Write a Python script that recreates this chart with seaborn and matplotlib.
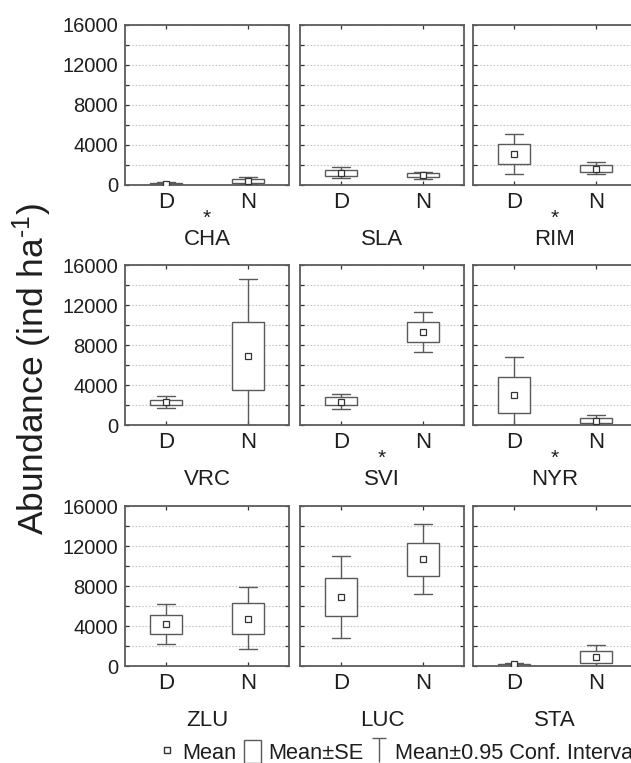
import numpy as np
import pandas as pd
import matplotlib
matplotlib.use("Agg")
import matplotlib.pyplot as plt
from matplotlib.lines import Line2D
from matplotlib.patches import Patch
from matplotlib.path import Path
import seaborn as sns

# ---------------- data ----------------
sites = ["CHA", "SLA", "RIM", "VRC", "SVI", "NYR", "ZLU", "LUC", "STA"]
groups = ["D", "N"]
significant = ["CHA", "RIM", "SVI", "NYR"]

mean_D    = [150, 1200, 3150, 2260, 2320, 3020, 4170, 6900, 160]
se_low_D  = [80, 900, 2100, 1990, 1990, 1230, 3170, 4970, 40]
se_high_D = [220, 1500, 4100, 2520, 2790, 4810, 5130, 8770, 230]
ci_low_D  = [20, 670, 1140, 1690, 1590, 0, 2170, 2770, 0]
ci_high_D = [300, 1800, 5060, 2860, 3150, 6770, 6200, 10970, 330]

mean_N    = [430, 970, 1610, 6900, 9300, 430, 4730, 10700, 900]
se_low_N  = [250, 770, 1340, 3550, 8300, 200, 3230, 9030, 330]
se_high_N = [600, 1200, 2010, 10260, 10260, 660, 6270, 12330, 1470]
ci_low_N  = [150, 630, 1070, 0, 7300, 0, 1670, 7230, 0]
ci_high_N = [760, 1300, 2280, 14570, 11290, 1000, 7870, 14170, 2100]

yticks = [0, 2000, 4000, 6000, 8000, 10000, 12000, 14000, 16000]
ytick_labels = ["0", "", "4000", "", "8000", "", "12000", "", "16000"]
y_label = "Abundance (ind ha$^{\u2010 1}$)"
legend_labels = ["Mean", "Mean\u00b1SE", "Mean\u00b10.95 Conf. Interval"]

# ---------------- table ----------------
rows = []
for i, s in enumerate(sites):
    rows.append(dict(site=s, group="D", mean=mean_D[i], se_low=se_low_D[i],
                     se_high=se_high_D[i], ci_low=ci_low_D[i], ci_high=ci_high_D[i]))
    rows.append(dict(site=s, group="N", mean=mean_N[i], se_low=se_low_N[i],
                     se_high=se_high_N[i], ci_low=ci_low_N[i], ci_high=ci_high_N[i]))
df = pd.DataFrame(rows)

# ---------------- style ----------------
sns.set_style("white")
plt.rcParams["font.family"] = ["Liberation Sans", "DejaVu Sans"]
plt.rcParams["mathtext.fontset"] = "custom"
plt.rcParams["mathtext.rm"] = "Liberation Sans"
plt.rcParams["mathtext.it"] = "Liberation Sans:italic"
plt.rcParams["mathtext.default"] = "regular"

W, H = 631, 763
fig = plt.figure(figsize=(W / 100, H / 100), dpi=100)
fig.patch.set_facecolor("white")

line_c = "#5a5a5a"
spine_c = "#5c5c5c"
text_c = "#1e1e1e"

lefts = [125 / W, 300 / W, 473 / W]
ax_w = 164 / W
tops = [25, 265, 506]
ax_hpx = 160
ax_h = ax_hpx / H

for i, site in enumerate(sites):
    r, c = divmod(i, 3)
    ax = fig.add_axes([lefts[c], 1 - (tops[r] + ax_hpx) / H, ax_w, ax_h])
    sub = df[df["site"] == site].set_index("group").loc[groups].reset_index()

    stats = [dict(med=row["mean"], q1=row["se_low"], q3=row["se_high"],
                  whislo=row["ci_low"], whishi=row["ci_high"], fliers=[])
             for _, row in sub.iterrows()]
    ax.bxp(stats, positions=list(range(len(groups))), widths=0.39, capwidths=0.21,
           showfliers=False, patch_artist=True,
           boxprops=dict(facecolor="white", edgecolor=line_c, linewidth=1.0),
           whiskerprops=dict(color=line_c, linewidth=1.0),
           capprops=dict(color=line_c, linewidth=1.0),
           medianprops=dict(linewidth=0))

    sns.pointplot(data=sub, x="group", y="mean", order=groups, errorbar=None,
                  linestyle="none", marker="s", color="#333333",
                  markersize=4, markeredgewidth=0.9, markerfacecolor="white",
                  ax=ax, zorder=6)

    ax.set_xlim(-0.5, len(groups) - 0.5)
    ax.set_ylim(0, 16000)
    ax.set_xticks(range(len(groups)))
    ax.set_xticklabels(groups)
    ax.set_yticks(yticks)
    ax.set_yticklabels(ytick_labels)
    ax.set_xlabel("")
    ax.set_ylabel("")
    ax.yaxis.grid(True, linestyle=(0, (1.5, 1.5)), color="#c8c8c8", linewidth=0.8)
    ax.xaxis.grid(False)
    ax.set_axisbelow(True)
    for sp in ax.spines.values():
        sp.set_visible(True)
        sp.set_color(spine_c)
        sp.set_linewidth(1.3)
    ax.tick_params(axis="both", direction="in", length=3, width=0.9, color="#333333",
                   top=True, right=True, bottom=True, left=True)
    ax.tick_params(axis="y", labelsize=14.5, pad=5, labelcolor=text_c,
                   labelleft=(c == 0))
    ax.tick_params(axis="x", labelsize=16, pad=5, labelcolor=text_c)

    ax.text(0.5, -0.373, site, transform=ax.transAxes, ha="center", va="baseline",
            fontsize=16, color=text_c)
    if site in significant:
        ax.text(0.5, -0.245, "*", transform=ax.transAxes, ha="center", va="baseline",
                fontsize=15, color=text_c)

fig.text(32 / W, 1 - 369 / H, y_label, rotation=90, ha="center", va="center",
         fontsize=25.5, color=text_c)

# legend
t_path = Path([(-0.3, 0.5), (0.3, 0.5), (0.0, 0.5), (0.0, -0.5)],
              [Path.MOVETO, Path.LINETO, Path.MOVETO, Path.LINETO])
handles = [
    Line2D([], [], marker="s", linestyle="none", markerfacecolor="white",
           markeredgecolor="#333333", markeredgewidth=1.0, markersize=5),
    Patch(facecolor="white", edgecolor=line_c, linewidth=1.0),
    Line2D([], [], marker=t_path, linestyle="none", color=line_c,
           markeredgewidth=1.0, markersize=17),
]
fig.legend(handles, legend_labels, loc="center left",
           bbox_to_anchor=(158.5 / W, 1 - 752 / H), ncol=3, frameon=False,
           fontsize=15.7, handlelength=0.78, handleheight=1.25, handletextpad=0.33,
           columnspacing=0.33, borderpad=0, borderaxespad=0, labelcolor=text_c)

fig.savefig("out.png", dpi=100)
